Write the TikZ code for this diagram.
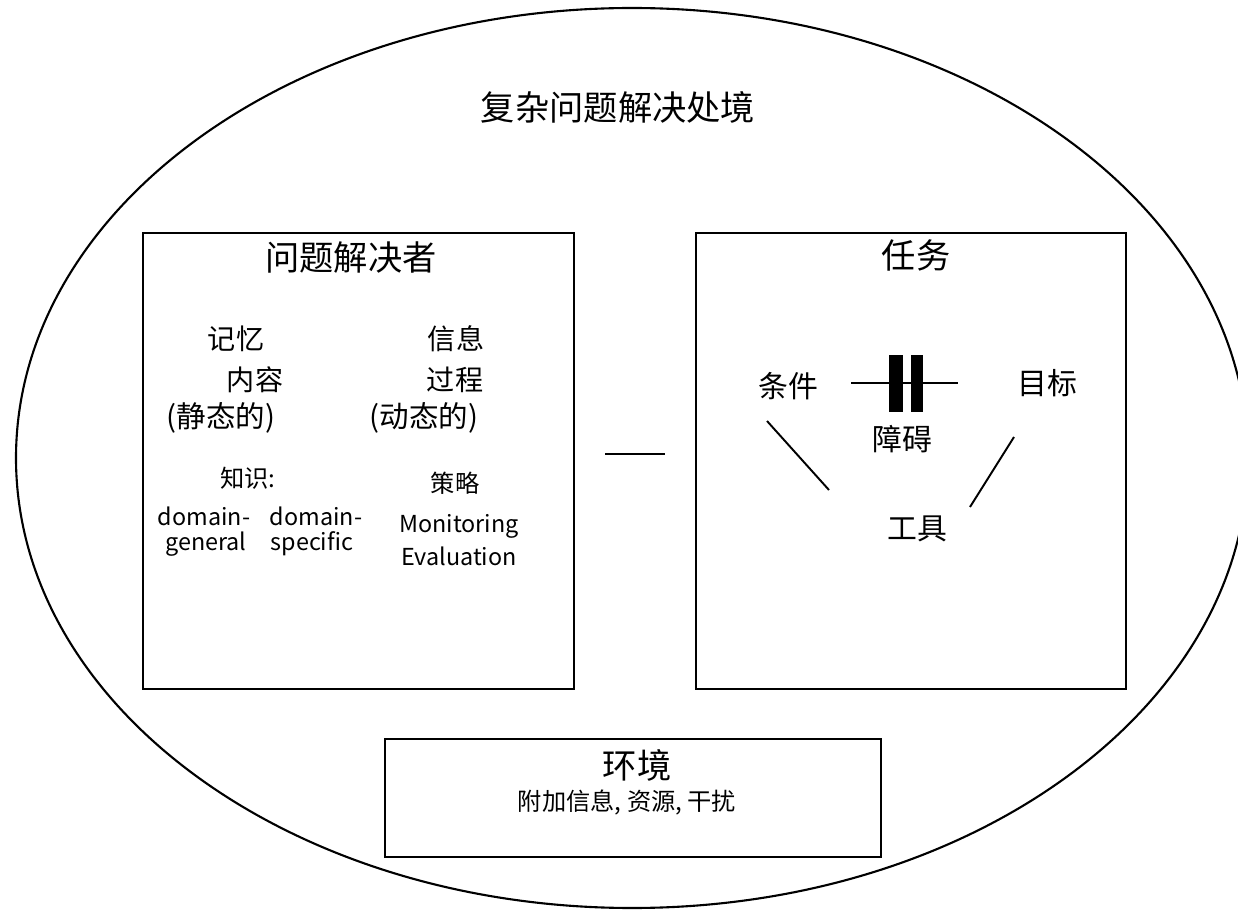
\documentclass[tikz,border=0pt]{standalone}
\usepackage{fontspec}
\setmainfont{Noto Sans CJK SC}
\begin{document}
\begin{tikzpicture}[x=0.02cm,y=-0.02cm,
  frame/.style={draw,line width=1.1pt,inner sep=0pt,anchor=north west},
  conn/.style={line width=1.1pt},
  txt/.style={inner sep=0pt,anchor=center},
  lat/.style={inner sep=0pt,anchor=base,font=\fontsize{13.3}{15}\selectfont},
  big/.style={txt,font=\fontsize{19.5}{22}\selectfont},
  mid/.style={txt,font=\fontsize{16}{18}\selectfont},
  task/.style={txt,font=\fontsize{17}{19}\selectfont},
  small/.style={txt,font=\fontsize{13.8}{15}\selectfont}]
\useasboundingbox (0,0) rectangle (1238,915);
\clip (0,0) rectangle (1238,915);
% outer ellipse
\draw[line width=1.2pt] (632,458) ellipse [x radius=616, y radius=450];
\node[big] (title) at (618,107) {复杂问题解决处境};
% boxes
\node[frame,minimum width=8.62cm,minimum height=9.12cm] (solver) at (142,232) {};
\node[frame,minimum width=8.60cm,minimum height=9.12cm] (task) at (695,232) {};
\node[frame,minimum width=9.92cm,minimum height=2.36cm] (env) at (384,738) {};
% dash between boxes
\coordinate (d1) at (605,454);
\coordinate (d2) at (665,454);
\draw[conn] (d1) -- (d2);
% solver content
\node[big] (solvert) at (351,258) {问题解决者};
\node[mid] (jiyi) at (236,339) {记忆};
\node[mid] (neirong) at (255,380) {内容};
\node[mid,font=\fontsize{16.8}{18}\selectfont] (jingtai) at (221,418) {(静态的)};
\node[mid] (xinxi) at (456,339) {信息};
\node[mid] (guocheng) at (455,380) {过程};
\node[mid,font=\fontsize{16.8}{18}\selectfont] (dongtai) at (424,418) {(动态的)};
\node[small] (zhishi) at (248,478) {知识:};
\node[small] (celue) at (455,483) {策略};
\node[lat] (dg1) at (204,525) {domain-};
\node[lat] (dg2) at (206,551) {general};
\node[lat] (ds1) at (316,525) {domain-};
\node[lat] (ds2) at (312,551) {specific};
\node[lat] (mon) at (459,533) {Monitoring};
\node[lat] (eva) at (459,565) {Evaluation};
% task content
\node[big] (taskt) at (916,255) {任务};
\node[task] (tiaojian) at (788,386) {条件};
\node[task] (mubiao) at (1047,383) {目标};
\node[task] (zhangai) at (902,439) {障碍};
\node[task] (gongju) at (917,529) {工具};
\coordinate (ob1) at (851,383);
\coordinate (ob2) at (958,383);
\draw[conn] (ob1) -- (ob2);
\fill (889,355) rectangle (903,412);
\fill (911,355) rectangle (923,412);
\coordinate (l1a) at (767,421);
\coordinate (l1b) at (829,490);
\coordinate (l2a) at (1014,437);
\coordinate (l2b) at (970,507);
\draw[conn] (l1a) -- (l1b);
\draw[conn] (l2a) -- (l2b);
% environment
\node[big] (envt) at (637,765) {环境};
\node[small] (envs) at (627,802) {附加信息, 资源, 干扰};
\end{tikzpicture}
\end{document}
